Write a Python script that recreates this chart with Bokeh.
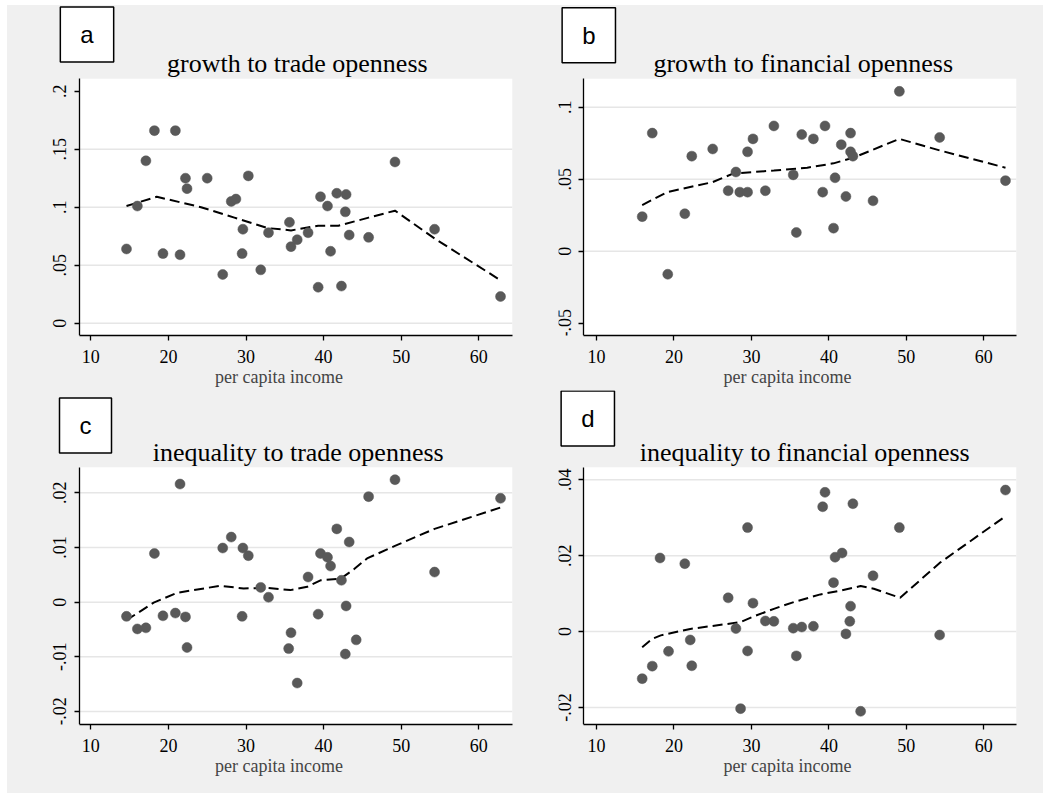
from bokeh.plotting import figure
from bokeh.layouts import row, column
from bokeh.models import FixedTicker, Range1d, Label, BoxAnnotation
from bokeh.embed import file_html
from bokeh.resources import INLINE

# ---------------- data ----------------
panel_letters = ["a", "b", "c", "d"]
titles = ["growth to trade openness", "growth to financial openness",
          "inequality to trade openness", "inequality to financial openness"]
x_label = "per capita income"
x_ticks = [10, 20, 30, 40, 50, 60]

# panel a
x_a = [14.6, 16.0, 17.1, 18.2, 19.3, 20.9, 21.5, 22.2, 22.4, 25.0, 27.0, 28.1, 28.7, 29.6, 29.5, 30.3,
       31.9, 32.9, 35.6, 35.8, 36.6, 38.0, 39.3, 39.6, 40.5, 40.9, 41.7, 42.3, 42.9, 42.8, 43.3, 45.8,
       49.2, 54.3, 62.8]
y_a = [0.064, 0.101, 0.140, 0.166, 0.060, 0.166, 0.059, 0.125, 0.116, 0.125, 0.042, 0.105, 0.107, 0.081,
       0.060, 0.127, 0.046, 0.078, 0.087, 0.066, 0.072, 0.078, 0.031, 0.109, 0.101, 0.062, 0.112, 0.032,
       0.111, 0.096, 0.076, 0.074, 0.139, 0.081, 0.023]
lx_a = [14.6, 18.5, 24.2, 28.5, 32.8, 35.8, 39.3, 41.9, 45.8, 49.2, 54.3, 62.8]
ly_a = [0.101, 0.109, 0.100, 0.091, 0.082, 0.080, 0.084, 0.084, 0.091, 0.097, 0.073, 0.037]
yt_a = [0, 0.05, 0.1, 0.15, 0.2]
yl_a = ["0", ".05", ".1", ".15", ".2"]
grid_a = [0, 0.05, 0.1, 0.15]

# panel b
x_b = [15.9, 17.2, 19.2, 21.4, 22.3, 25.0, 27.0, 28.0, 28.5, 29.5, 29.5, 30.2, 31.8, 32.9, 35.4, 35.8,
       36.5, 38.0, 39.2, 39.5, 40.6, 40.8, 41.6, 42.2, 42.8, 42.8, 43.1, 45.7, 49.1, 54.3, 62.8]
y_b = [0.024, 0.082, -0.016, 0.026, 0.066, 0.071, 0.042, 0.055, 0.041, 0.069, 0.041, 0.078, 0.042, 0.087,
       0.053, 0.013, 0.081, 0.078, 0.041, 0.087, 0.016, 0.051, 0.074, 0.038, 0.082, 0.069, 0.066, 0.035,
       0.111, 0.079, 0.049]
lx_b = [15.9, 19.1, 25.0, 27.7, 32.9, 37.2, 40.6, 43.2, 49.1, 54.3, 62.8]
ly_b = [0.032, 0.041, 0.048, 0.054, 0.056, 0.058, 0.061, 0.065, 0.078, 0.070, 0.058]
yt_b = [-0.05, 0, 0.05, 0.1]
yl_b = ["-.05", "0", ".05", ".1"]
grid_b = [0, 0.05, 0.1]

# panel c
x_c = [14.6, 16.0, 17.1, 18.2, 19.3, 20.9, 21.5, 22.2, 22.4, 27.0, 28.1, 29.6, 29.5, 30.3, 31.9, 32.9,
       35.5, 35.8, 36.6, 38.0, 39.3, 39.6, 40.5, 40.9, 41.7, 42.3, 42.9, 42.8, 43.3, 44.2, 45.8, 49.2,
       54.3, 62.8]
y_c = [-0.0026, -0.0049, -0.0047, 0.0089, -0.0025, -0.0020, 0.0216, -0.0027, -0.0083, 0.0099, 0.0119,
       0.0099, -0.0026, 0.0085, 0.0027, 0.0009, -0.0085, -0.0056, -0.0148, 0.0046, -0.0022, 0.0089,
       0.0082, 0.0066, 0.0134, 0.0040, -0.0007, -0.0095, 0.0110, -0.0069, 0.0193, 0.0224, 0.0055, 0.0190]
lx_c = [14.6, 18.1, 21.1, 26.7, 29.7, 32.7, 35.7, 37.9, 39.6, 42.2, 43.9, 45.6, 49.2, 54.3, 62.8]
ly_c = [-0.0033, -0.0001, 0.0017, 0.0030, 0.0025, 0.0026, 0.0022, 0.0028, 0.0040, 0.0043, 0.0060,
        0.0080, 0.0103, 0.0134, 0.0173]
yt_c = [-0.02, -0.01, 0, 0.01, 0.02]
yl_c = ["-.02", "-.01", "0", ".01", ".02"]
grid_c = [-0.02, -0.01, 0, 0.01, 0.02]

# panel d
x_d = [15.9, 17.2, 18.2, 19.3, 21.4, 22.1, 22.3, 27.0, 28.0, 28.6, 29.5, 29.5, 30.2, 31.8, 32.9, 35.4,
       35.8, 36.5, 38.0, 39.2, 39.5, 40.6, 40.8, 41.7, 42.2, 42.8, 42.7, 43.1, 44.1, 45.7, 49.1, 54.3, 62.8]
y_d = [-0.0124, -0.0091, 0.0194, -0.0052, 0.0179, -0.0022, -0.0090, 0.0089, 0.0008, -0.0203, 0.0274,
       -0.0051, 0.0075, 0.0028, 0.0027, 0.0009, -0.0064, 0.0012, 0.0014, 0.0329, 0.0367, 0.0129, 0.0196,
       0.0207, -0.0006, 0.0067, 0.0027, 0.0337, -0.0210, 0.0147, 0.0274, -0.0009, 0.0373]
lx_d = [15.9, 17.2, 18.3, 22.1, 28.6, 30.3, 32.9, 35.5, 38.9, 41.5, 44.1, 45.8, 49.2, 54.3, 62.8]
ly_d = [-0.0041, -0.0019, -0.0010, 0.0007, 0.0025, 0.0040, 0.0060, 0.0078, 0.0098, 0.0108, 0.0120,
        0.0113, 0.0089, 0.0181, 0.0304]
yt_d = [-0.02, 0, 0.02, 0.04]
yl_d = ["-.02", "0", ".02", ".04"]
grid_d = [-0.02, 0, 0.02, 0.04]

# ---------------- style / geometry ----------------
BG = "#f0f0f0"
SERIF = "Liberation Serif"
SANS = "Liberation Sans"
ROOT_LEFT, ROOT_TOP = 7, 5
COL_SPLIT = 520     # page x where the right column starts
ROW_SPLIT = 390     # page y where the bottom row starts
PAGE_R, PAGE_B = 1043, 793
BORDER_L = 38       # room for the y axis panel


def make_panel(idx, xs, ys, lxs, lys, yticks, ylabels, grid_ticks,
               canvas, frame, plot_left_px, plot_top_px, xcal, ycal, box_c, title_c):
    """canvas/frame: (left, top, right, bottom) in page px;
    xcal/ycal: (value, page_px, px_per_unit) calibration of the axes."""
    cl, ct, cr, cb = canvas
    fl, ft, fr, fb = frame
    xv, xp, xk = xcal
    yv, yp, yk = ycal
    px2x = lambda px: xv + (px - xp) / xk
    py2y = lambda py: yv + (yp - py) / yk
    x0, x1 = px2x(fl), px2x(fr)
    y0, y1 = py2y(fb), py2y(ft)
    xpl = px2x(plot_left_px)
    ypt = py2y(plot_top_px)

    p = figure(width=cr - cl, height=cb - ct, output_backend="svg", toolbar_location=None,
               x_range=Range1d(x0, x1), y_range=Range1d(y0, y1), title_location=None,
               min_border_left=fl - cl, min_border_right=cr - fr,
               min_border_top=ft - ct, min_border_bottom=cb - fb)
    p.background_fill_color = BG
    p.border_fill_color = BG
    p.outline_line_color = None
    p.grid.visible = False

    # white plot region
    p.add_layout(BoxAnnotation(left=xpl, right=x1, bottom=y0, top=ypt, fill_color="white",
                               fill_alpha=1.0, line_color=None, level="underlay"))

    for ax in (p.xaxis[0], p.yaxis[0]):
        ax.axis_line_color = "black"
        ax.axis_line_width = 1.3
        ax.major_tick_line_color = "black"
        ax.major_tick_line_width = 1.3
        ax.major_tick_in = 0
        ax.major_tick_out = 5
        ax.minor_tick_line_color = None
        ax.major_label_text_font = SERIF
        ax.major_label_text_font_size = "18px"
        ax.major_label_text_color = "black"

    p.xaxis.ticker = FixedTicker(ticks=x_ticks)
    p.xaxis.bounds = (xpl, x1)
    p.xaxis.major_label_standoff = 9
    p.xaxis.axis_label = x_label
    p.xaxis.axis_label_text_font = SERIF
    p.xaxis.axis_label_text_font_style = "normal"
    p.xaxis.axis_label_text_font_size = "18px"
    p.xaxis.axis_label_standoff = 1

    p.yaxis.ticker = FixedTicker(ticks=yticks)
    p.yaxis.major_label_overrides = {t_: l for t_, l in zip(yticks, ylabels)}
    p.yaxis.major_label_orientation = "vertical"
    p.yaxis.major_label_standoff = 8
    p.yaxis.fixed_location = xpl
    p.yaxis.bounds = (y0, ypt)

    # horizontal grid lines over the plot region
    p.segment(x0=[xpl] * len(grid_ticks), x1=[x1] * len(grid_ticks), y0=grid_ticks, y1=grid_ticks,
              line_color="#e6e6e6", line_width=1.5)

    p.line(lxs, lys, line_color="black", line_width=2, line_dash="10 5")
    p.scatter(xs, ys, size=10, fill_color="#595959", line_color="#595959", line_width=0.5)

    p.add_layout(Label(x=title_c[0] - fl, y=fb - title_c[1], x_units="screen", y_units="screen",
                       text=titles[idx], text_font=SERIF, text_font_size="26px",
                       text_align="center", text_baseline="alphabetic", text_color="black"))

    p.add_layout(Label(x=box_c[0] - fl, y=fb - box_c[1], x_units="screen", y_units="screen",
                       text=panel_letters[idx], text_font=SANS, text_font_size="24px",
                       text_align="center", text_baseline="middle", text_color="black",
                       background_fill_color="white", border_line_color="black",
                       border_line_width=1.5, padding=(20, 20, 14, 14)))
    return p


cal_x_left = (10, 90.3, 7.76)
cal_x_right = (10, 596.0, 7.746)

pa = make_panel(0, x_a, y_a, lx_a, ly_a, yt_a, yl_a, grid_a,
                (ROOT_LEFT, ROOT_TOP, COL_SPLIT, ROW_SPLIT), (ROOT_LEFT + BORDER_L, ROOT_TOP, 512, 335),
                79, 78.3, cal_x_left, (0, 322.7, 1160.0), (86.5, 34), (296.8, 63))
pb = make_panel(1, x_b, y_b, lx_b, ly_b, yt_b, yl_b, grid_b,
                (COL_SPLIT, ROOT_TOP, PAGE_R, ROW_SPLIT), (COL_SPLIT + BORDER_L, ROOT_TOP, 1016, 335),
                583.3, 78.3, cal_x_right, (0.1, 106.7, 1440.0), (588.3, 34.8), (802.7, 63))
pc = make_panel(2, x_c, y_c, lx_c, ly_c, yt_c, yl_c, grid_c,
                (ROOT_LEFT, ROW_SPLIT, COL_SPLIT, PAGE_B), (ROOT_LEFT + BORDER_L, ROW_SPLIT, 512, 724),
                79, 466.7, cal_x_left, (0.02, 492.3, 5467.0), (85, 425), (297.7, 452))
pd = make_panel(3, x_d, y_d, lx_d, ly_d, yt_d, yl_d, grid_d,
                (COL_SPLIT, ROW_SPLIT, PAGE_R, PAGE_B), (COL_SPLIT + BORDER_L, ROW_SPLIT, 1016, 724),
                583.3, 466.7, cal_x_right, (0.04, 479.3, 3795.0), (587.3, 418), (804.2, 451.5))

bgstyle = {"background-color": BG}
layout = row(column(pa, pc, spacing=0, styles=bgstyle),
             column(pb, pd, spacing=0, styles=bgstyle),
             spacing=0, styles=bgstyle, margin=(ROOT_TOP, 0, 0, ROOT_LEFT))
open("out.html", "w").write(file_html(layout, INLINE))
